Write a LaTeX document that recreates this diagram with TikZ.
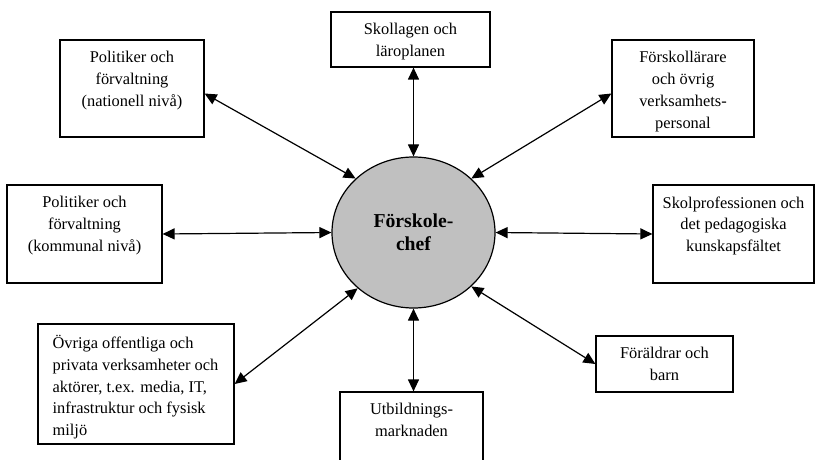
\documentclass[tikz,border=0pt]{standalone}
\usepackage{xcolor}
\usepackage{fontspec}
\setmainfont{Liberation Serif}
\usepackage{tikz}
\usetikzlibrary{arrows.meta, shapes.geometric, positioning}
\definecolor{chefgray}{RGB}{192,192,192}
\tikzset{
  aktor/.style={draw, line width=1.2pt, inner sep=0pt},
  aktortext/.style={anchor=north, align=center, inner sep=0pt, yshift=-12pt, font=\fontsize{16.4}{21.7}\selectfont},
  relation/.style={line width=1.2pt, {Triangle[length=12pt,width=11pt]}-{Triangle[length=12pt,width=11pt]}},
}

\begin{document}
\begin{tikzpicture}[x=1pt, y=-1pt]
    \useasboundingbox (0,0) rectangle (815,460);
    \node [ellipse, draw, line width=1.2pt, fill=chefgray, minimum width=163pt, minimum height=151pt, inner sep=0pt, align=center, font=\fontsize{19.7}{22.7}\selectfont\bfseries] (chef) at (413.5,232.5) {Förskole-\\chef};

    \node [aktor, minimum width=144pt, minimum height=97pt] (natl) at (132,88.5) {};
    \node [aktortext] (natl-text) at (natl.north) {Politiker och\\förvaltning\\(nationell nivå)};
    \node [aktor, minimum width=159pt, minimum height=55pt] (lag) at (410.5,39.5) {};
    \node [aktortext] (lag-text) at (lag.north) {Skollagen och\\läroplanen};
    \node [aktor, minimum width=142pt, minimum height=97pt] (fsk) at (683,88.5) {};
    \node [aktortext] (fsk-text) at (fsk.north) {Förskollärare\\och övrig\\verksamhets-\\personal};
    \node [aktor, minimum width=155pt, minimum height=98pt] (komm) at (84.5,234) {};
    \node [aktortext] (komm-text) at (komm.north) {Politiker och\\förvaltning\\(kommunal nivå)};
    \node [aktor, minimum width=161pt, minimum height=98pt] (prof) at (733.5,234) {};
    \node [aktortext] (prof-text) at (prof.north) {Skolprofessionen och\\det pedagogiska\\kunskapsfältet};
    \node [aktor, minimum width=196pt, minimum height=120pt] (ovr) at (136,384) {};
    \node [aktortext, anchor=north west, align=left] (ovr-text) at ([xshift=15pt]ovr.north west) {Övriga offentliga och\\privata verksamheter och\\aktörer, t.ex. media, IT,\\infrastruktur och fysisk\\miljö};
    \node [aktor, minimum width=143pt, minimum height=80pt] (utb) at (411.5,432) {};
    \node [aktortext] (utb-text) at (utb.north) {Utbildnings-\\marknaden};
    \node [aktor, minimum width=137pt, minimum height=56pt] (fora) at (664.5,364) {};
    \node [aktortext] (fora-text) at (fora.north) {Föräldrar och\\barn};

    \draw [relation] ([yshift=-5pt]natl.east) -- (chef.137);
    \draw [relation] (chef.north |- lag.south) -- (chef.north);
    \draw [relation] ([yshift=-5pt]fsk.west) -- (chef.43);
    \draw [relation] (komm.east) -- (chef.west);
    \draw [relation] (chef.east) -- (prof.west);
    \draw [relation] (ovr.east) -- (chef.225);
    \draw [relation] (chef.317) -- (fora.west);
    \draw [relation] (chef.south) -- (chef.south |- utb.north);
\end{tikzpicture}
\end{document}
